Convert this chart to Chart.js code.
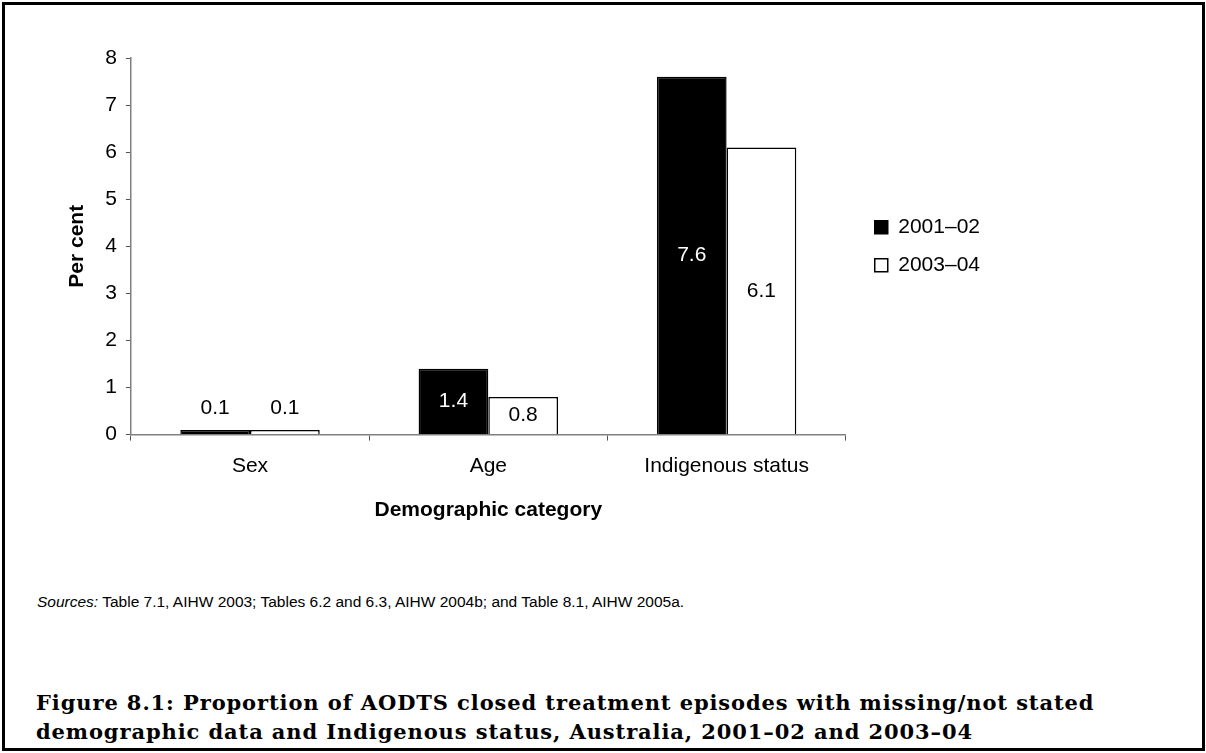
<!DOCTYPE html>
<html>
<head>
<meta charset="utf-8">
<script src="https://cdn.jsdelivr.net/npm/chart.js@4/dist/chart.umd.min.js"></script>
<style>
  html, body { margin: 0; padding: 0; background: #fff; }
  body { width: 1206px; height: 753px; position: relative; overflow: hidden; }
  #frame { position: absolute; left: 2px; top: 2px; width: 1197px; height: 743px; border: 3px solid #000; }
  #wrap { position: absolute; left: 0; top: 0; width: 1206px; height: 560px; }
  #sources { position: absolute; left: 37px; top: 593px; font-family: "Liberation Sans", Arial, sans-serif; font-size: 15.5px; color: #000; white-space: nowrap; }
  #caption { position: absolute; left: 36px; top: 688px; font-family: "DejaVu Serif", serif; font-weight: bold; font-size: 21px; letter-spacing: 0.9px; line-height: 29px; color: #000; white-space: nowrap; }
</style>
</head>
<body>
<div id="frame"></div>
<div id="wrap"><canvas id="c"></canvas></div>
<div id="sources"><i>Sources:</i> Table 7.1, AIHW 2003; Tables 6.2 and 6.3, AIHW 2004b; and Table 8.1, AIHW 2005a.</div>
<div id="caption">Figure 8.1: Proportion of AODTS closed treatment episodes with missing/not stated<br>demographic data and Indigenous status, Australia, 2001–02 and 2003–04</div>
<script>
const categories = ["Sex", "Age", "Indigenous status"];
const seriesNames = ["2001–02", "2003–04"];
const values2001 = [0.1, 1.4, 7.6];
const values2003 = [0.1, 0.8, 6.1];
const yTicks = [0, 1, 2, 3, 4, 5, 6, 7, 8];

const FONT = "'Liberation Sans', Arial, sans-serif";

const barLabels = {
  id: 'barLabels',
  afterDatasetsDraw(chart) {
    const ctx = chart.ctx;
    ctx.save();
    ctx.font = "21px " + FONT;
    ctx.textAlign = 'center';
    ctx.textBaseline = 'middle';
    chart.data.datasets.forEach((ds, di) => {
      const meta = chart.getDatasetMeta(di);
      meta.data.forEach((bar, i) => {
        const v = ds.data[i];
        const h = bar.base - bar.y;
        let y, color;
        if (h > 30) {
          y = (bar.y + bar.base) / 2;
          color = di === 0 ? '#fff' : '#000';
        } else {
          y = bar.y - 22;
          color = '#000';
        }
        ctx.fillStyle = color;
        ctx.fillText(v.toFixed(1), bar.x, y);
      });
    });
    ctx.restore();
  }
};

const legendShift = {
  id: 'legendShift',
  afterLayout(chart) {
    const lg = chart.legend;
    if (lg) { lg.left += 12; lg.right += 12; }
  }
};

new Chart(document.getElementById('c'), {
  type: 'bar',
  data: {
    labels: categories,
    datasets: [
      { label: seriesNames[0], data: values2001, backgroundColor: '#000', borderColor: '#000', borderWidth: 1.5,
        categoryPercentage: 0.585, barPercentage: 1.0 },
      { label: seriesNames[1], data: values2003, backgroundColor: '#fff', borderColor: '#000', borderWidth: 1.5,
        categoryPercentage: 0.585, barPercentage: 1.0 }
    ]
  },
  options: {
    responsive: true,
    maintainAspectRatio: false,
    animation: false,
    layout: { padding: { top: 58, left: 65, right: 228, bottom: 37 } },
    plugins: {
      tooltip: { enabled: false },
      legend: {
        position: 'right',
        fullSize: false,
        labels: {
          font: { family: FONT, size: 21 },
          color: '#000',
          boxWidth: 13,
          boxHeight: 13,
          padding: 17,
          generateLabels(chart) {
            return chart.data.datasets.map((ds, i) => ({
              text: ds.label,
              fillStyle: ds.backgroundColor,
              strokeStyle: '#000',
              lineWidth: 1.5,
              datasetIndex: i,
              fontColor: '#000'
            }));
          }
        }
      }
    },
    scales: {
      x: {
        grid: { drawOnChartArea: false, drawTicks: true, tickLength: 6, color: '#555', offset: true },
        border: { display: true, color: '#808080', width: 1.5 },
        ticks: { font: { family: FONT, size: 21 }, color: '#000', padding: 13 },
        title: { display: true, text: 'Demographic category', font: { family: FONT, size: 21, weight: 'bold' }, color: '#000', padding: { top: 6, bottom: 0 } }
      },
      y: {
        min: 0, max: 8,
        afterBuildTicks(scale) { scale.ticks = yTicks.map(v => ({ value: v })); },
        grid: { drawOnChartArea: false, drawTicks: true, tickLength: 5, color: '#555' },
        border: { display: true, color: '#808080', width: 1.5 },
        ticks: { font: { family: FONT, size: 21 }, color: '#000', padding: 9 },
        title: { display: true, text: 'Per cent', font: { family: FONT, size: 21, weight: 'bold' }, color: '#000', padding: { top: 0, bottom: 6 } }
      }
    }
  },
  plugins: [barLabels, legendShift]
});
</script>
</body>
</html>
